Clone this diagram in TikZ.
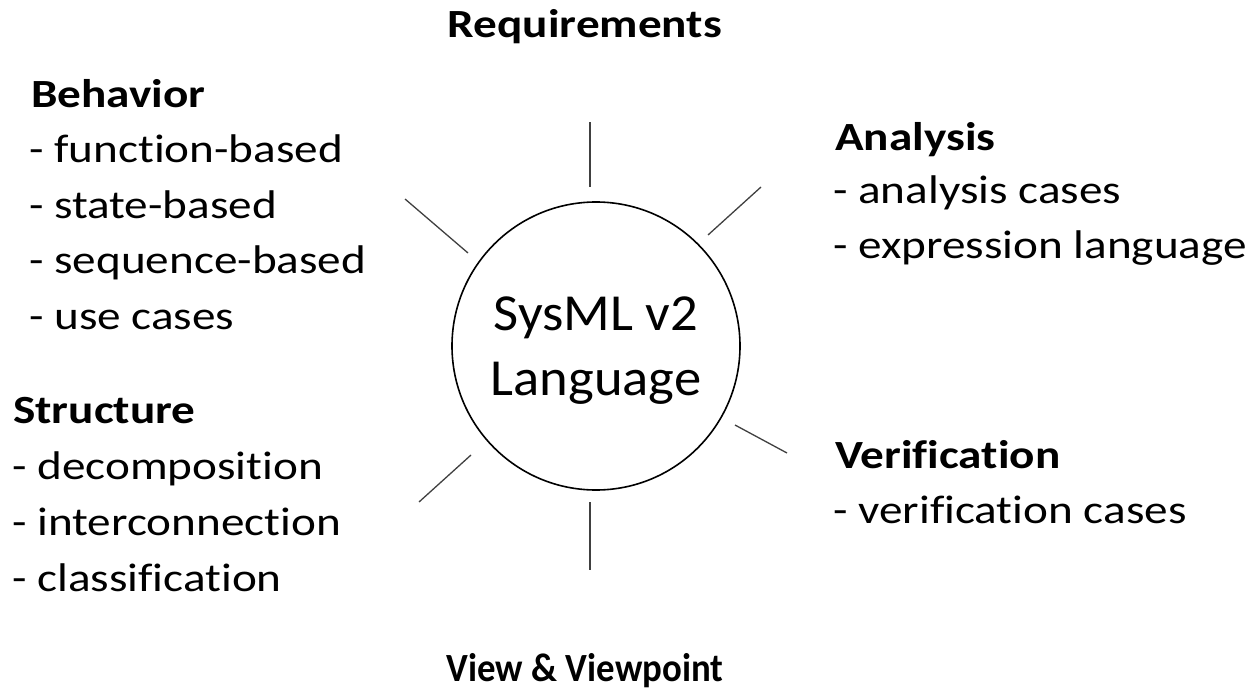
\documentclass[tikz,border=0pt]{standalone}
\usepackage{fontspec}
\setmainfont{Carlito}[FakeStretch=1.18,Ligatures=NoCommon]
\newfontfamily\circfont{Carlito}[FakeStretch=1.05,Ligatures=NoCommon]
\newfontfamily\narrowfont{Carlito}[FakeStretch=0.92,Ligatures=NoCommon]
\begin{document}
\begin{tikzpicture}[x=1pt,y=-1pt,
  head/.style={anchor=base west,inner sep=0pt,font=\fontsize{40}{48}\selectfont\bfseries},
  item/.style={anchor=base west,inner sep=0pt,font=\fontsize{40}{48}\selectfont},
  ctitle/.style={anchor=base,inner sep=0pt,font=\fontsize{40}{48}\selectfont\bfseries},
  spoke/.style={draw=black!75,line width=1.3pt},
  core/.style={circle,draw=black,line width=1.6pt,minimum size=288pt,inner sep=0pt}]
\useasboundingbox (0,0) rectangle (1256,693);
% centre
\node[core] (core) at (596,346) {};
\node[anchor=base,inner sep=0pt,font=\circfont\fontsize{52}{60}\selectfont] (l1) at (596,330) {SysML v2};
\node[anchor=base,inner sep=0pt,font=\circfont\fontsize{52}{60}\selectfont] (l2) at (596,395) {Language};
% spokes
\coordinate (t1) at (590,122); \coordinate (t2) at (590,187);
\coordinate (ur1) at (708,235); \coordinate (ur2) at (761,187);
\coordinate (ul1) at (405,199); \coordinate (ul2) at (468,253);
\coordinate (lr1) at (735,425); \coordinate (lr2) at (787,453);
\coordinate (ll1) at (471,455); \coordinate (ll2) at (419,502);
\coordinate (b1) at (590,502); \coordinate (b2) at (590,570);
\draw[spoke] (t1) -- (t2);
\draw[spoke] (ur1) -- (ur2);
\draw[spoke] (ul1) -- (ul2);
\draw[spoke] (lr1) -- (lr2);
\draw[spoke] (ll1) -- (ll2);
\draw[spoke] (b1) -- (b2);
% top / bottom
\node[ctitle] (req) at (585,38) {Requirements};
\node[ctitle,font=\narrowfont\fontsize{40}{48}\selectfont\bfseries] (view) at (585,681) {View \& Viewpoint};
% behavior
\node[head] (beh) at (31,107) {Behavior};
\node[item] (b1t) at (29,162) {- function-based};
\node[item] (b2t) at (29,218) {- state-based};
\node[item] (b3t) at (29,273) {- sequence-based};
\node[item] (b4t) at (29,329) {- use cases};
% structure
\node[head] (str) at (13,423) {Structure};
\node[item] (s1t) at (12,479) {- decomposition};
\node[item] (s2t) at (12,535) {- interconnection};
\node[item] (s3t) at (12,591) {- classification};
% analysis
\node[head] (ana) at (835,150) {Analysis};
\node[item] (a1t) at (833,203) {- analysis cases};
\node[item] (a2t) at (833,258) {- expression language};
% verification
\node[head] (ver) at (835,468) {Verification};
\node[item] (v1t) at (833,523) {- verification cases};
\end{tikzpicture}
\end{document}
